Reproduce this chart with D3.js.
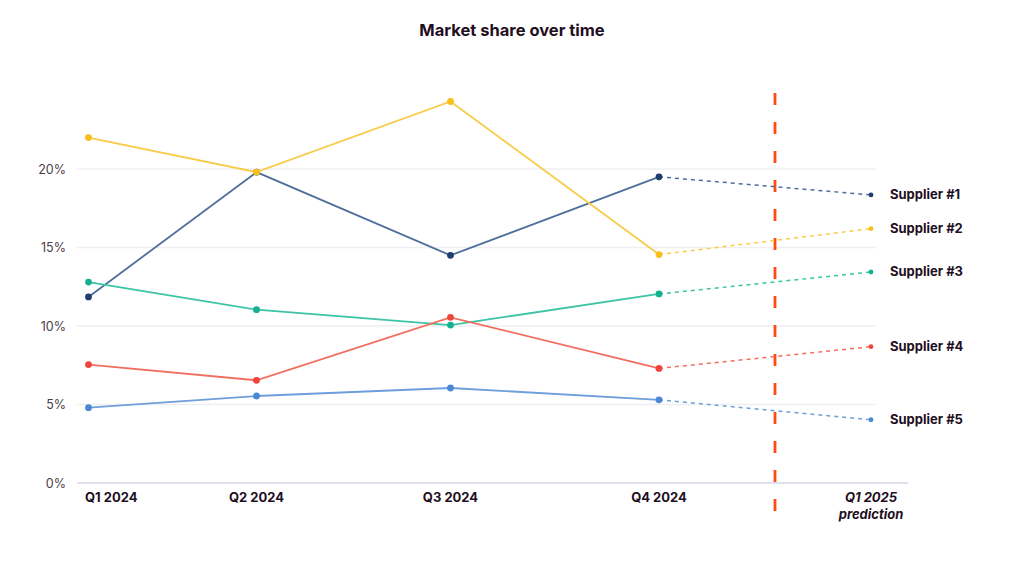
<!DOCTYPE html>
<html><head><meta charset="utf-8">
<script src="https://cdn.jsdelivr.net/npm/d3@7"></script>
<style>
html,body{margin:0;padding:0;background:#fff;}
svg{display:block;font-family:Inter,"Noto Sans",sans-serif;}
</style></head>
<body><svg id="chart" width="1024" height="562"></svg>
<script>
const title = "Market share over time";
const quarters = ["Q1 2024","Q2 2024","Q3 2024","Q4 2024","Q1 2025"];
const quarterLabels = [["Q1 2024"],["Q2 2024"],["Q3 2024"],["Q4 2024"],["Q1 2025","prediction"]];
const seriesNames = ["Supplier #1","Supplier #2","Supplier #3","Supplier #4","Supplier #5"];
const supplier1 = [11.85, 19.8, 14.5, 19.5, 18.35];
const supplier2 = [22.0, 19.8, 24.3, 14.55, 16.2];
const supplier3 = [12.8, 11.04, 10.06, 12.04, 13.44];
const supplier4 = [7.54, 6.54, 10.55, 7.3, 8.68];
const supplier5 = [4.8, 5.54, 6.05, 5.3, 4.03];
const yTicks = [0, 5, 10, 15, 20];
const seriesValues = [supplier1, supplier2, supplier3, supplier4, supplier5];
const lineColors = ["#4d6f9c","#f8cc48","#3cc4a6","#f26e5e","#6e9edb"];
const dotColors = ["#1e3f6e","#f6bf1c","#14b191","#f0453b","#4a88d6"];

const svg = d3.select("#chart");
const x = d3.scaleOrdinal().domain(quarters).range([88.5, 256.5, 450.5, 659, 871]);
const y = d3.scaleLinear().domain([0, 20]).range([483, 169]);

svg.append("text").attr("x", 512).attr("y", 36).attr("text-anchor","middle")
  .attr("font-size", 16.5).attr("font-weight", 700).attr("fill", "#1f0f1f").text(title);

// grid
const g = svg.append("g");
g.selectAll("line.grid").data(yTicks.filter(t => t > 0)).join("line")
  .attr("x1", 77).attr("x2", 876).attr("y1", d => y(d)).attr("y2", d => y(d))
  .attr("stroke", "#efeff3").attr("stroke-width", 1.5);
g.append("line").attr("x1", 77).attr("x2", 908).attr("y1", y(0)).attr("y2", y(0))
  .attr("stroke", "#e0e0ec").attr("stroke-width", 2);

// y labels
g.selectAll("text.ytick").data(yTicks).join("text")
  .attr("x", 66).attr("y", d => y(d) + 4.5).attr("text-anchor", "end")
  .attr("font-size", 12.5).attr("fill", "#4a3c48").text(d => d + "%");

// x labels
quarters.forEach((q, i) => {
  const anchor = i === 0 ? "start" : "middle";
  const xx = i === 0 ? x(q) - 3.5 : x(q);
  const t = svg.append("text").attr("x", xx).attr("y", 502).attr("text-anchor", anchor)
    .attr("font-size", 13).attr("font-weight", 700).attr("fill", "#1f0f1f")
    .attr("font-style", i === quarters.length - 1 ? "italic" : "normal");
  quarterLabels[i].forEach((s, k) => {
    t.append("tspan").attr("x", xx).attr("dy", k === 0 ? 0 : 17).text(s);
  });
});

// vertical dashed prediction line
svg.append("line").attr("x1", 775).attr("x2", 775).attr("y1", 93).attr("y2", 511)
  .attr("stroke", "#ff4a12").attr("stroke-width", 2.8).attr("stroke-dasharray", "12,17");

const line = d3.line().x(d => x(d.q)).y(d => y(d.v));
seriesValues.forEach((vals, si) => {
  const pts = vals.map((v, i) => ({q: quarters[i], v}));
  const actual = pts.slice(0, 4), pred = pts.slice(3);
  svg.append("path").attr("d", line(actual)).attr("fill", "none")
    .attr("stroke", lineColors[si]).attr("stroke-width", 1.8);
  svg.append("path").attr("d", line(pred)).attr("fill", "none")
    .attr("stroke", lineColors[si]).attr("stroke-width", 1.5).attr("stroke-dasharray", "4,4");
  svg.selectAll(null).data(actual).join("circle")
    .attr("cx", d => x(d.q)).attr("cy", d => y(d.v)).attr("r", 3.4)
    .attr("fill", dotColors[si]);
  svg.append("circle").attr("cx", x(pred[1].q)).attr("cy", y(pred[1].v)).attr("r", 2.4)
    .attr("fill", dotColors[si]);
  svg.append("text").attr("x", 890).attr("y", y(pred[1].v) + 4.5)
    .attr("font-size", 13).attr("font-weight", 700).attr("fill", "#1f0f1f")
    .text(seriesNames[si]);
});
</script></body></html>
